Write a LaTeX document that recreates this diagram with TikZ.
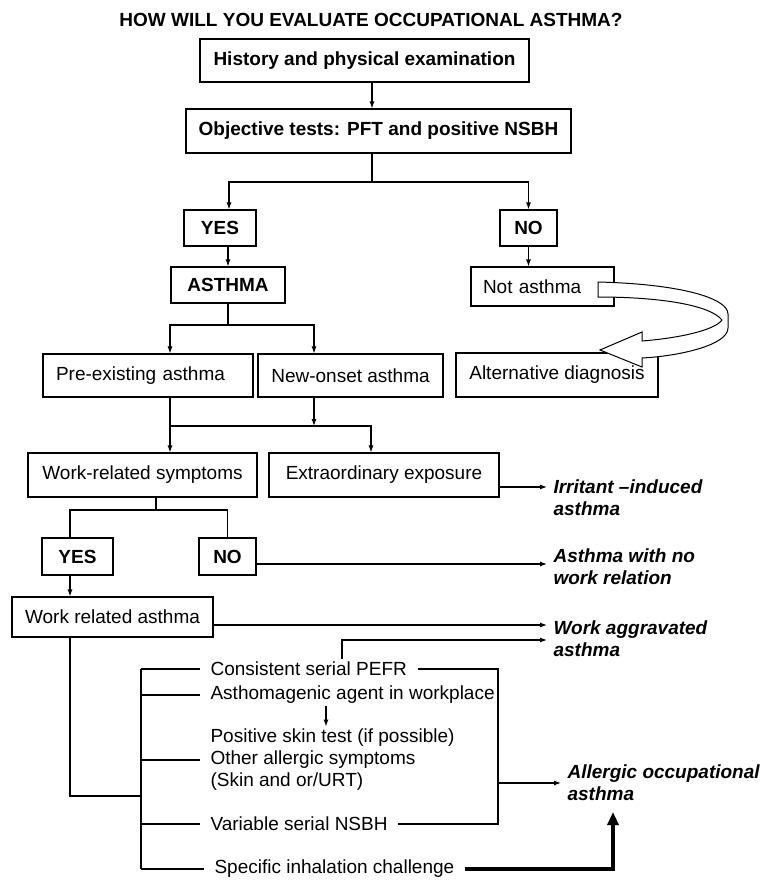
\documentclass[tikz,border=0pt]{standalone}
\usepackage{fontspec}
\setmainfont{Liberation Sans}
\usetikzlibrary{positioning, arrows.meta}
\newcommand{\dgfont}{\fontsize{19}{22}\selectfont}
\tikzset{
box/.style={draw, rectangle, inner sep=0, font=\dgfont}, keybox/.style={box, font=\dgfont\bfseries},
item/.style={anchor=west, inner xsep=10pt, inner ysep=2pt, font=\dgfont, align=left},
outcome/.style={anchor=west, inner xsep=6pt, font=\dgfont\bfseries\itshape, align=left}}

\begin{document}
\begin{tikzpicture}[x=1pt, y=-1pt, line width=1.1pt, >={Latex[length=7pt,width=5pt]}]
\useasboundingbox (0,0) rectangle (761,881);
\node [font=\dgfont\bfseries] at (371,20) (title) {HOW WILL YOU EVALUATE OCCUPATIONAL ASTHMA?};
\node [keybox, minimum width=329pt, minimum height=43pt] at (364.5,60.5) (hist) {History and physical examination};
\node [keybox, minimum width=385pt, minimum height=44pt] at (378.5,131) (obj) {Objective tests: PFT and positive NSBH};
\node [keybox, minimum width=72pt, minimum height=36pt] at (220,228) (yes-1) {YES};
\node [keybox, minimum width=57pt, minimum height=36pt] at (528.5,228) (no-1) {NO};
\node [keybox, minimum width=114pt, minimum height=36pt] at (228,285) (asth) {ASTHMA};
\node [box, minimum width=143pt, minimum height=39pt, text width=119pt, align=left] at (542.5,286.5) (notas) {Not asthma};
\node [box, minimum width=210pt, minimum height=43pt, text width=184pt, align=left] at (148,375.5) (pre) {Pre-existing asthma};
\node [box, minimum width=185pt, minimum height=43pt] at (350.5,375.5) (new) {New-onset asthma};
\node [box, minimum width=202pt, minimum height=44pt] at (557,375) (alt) {Alternative diagnosis};
\node [box, minimum width=229pt, minimum height=44pt] at (142.5,475) (wrs) {Work-related symptoms};
\node [box, minimum width=230pt, minimum height=44pt] at (384,475) (ee) {Extraordinary exposure};
\node [keybox, minimum width=71pt, minimum height=37pt] at (77.5,556.5) (yes-2) {YES};
\node [keybox, minimum width=57pt, minimum height=37pt] at (227.5,556.5) (no-2) {NO};
\node [box, minimum width=201pt, minimum height=40pt] at (112.5,617) (wra) {Work related asthma};

% criteria
\node [item] at (200,669) (i-1) {Consistent serial PEFR};
\node [item] at (200,695) (i-2) {Asthomagenic agent in workplace};
\node [item] at (200,760) (i-3) {Positive skin test (if possible)\\Other allergic symptoms\\(Skin and or/URT)};
\node [item] at (200,824) (i-4) {Variable serial NSBH};
\node [item] at (204,869) (i-5) {Specific inhalation challenge};

% outcomes
\node [outcome] at (547,497.5) (irr) {Irritant –induced\\asthma};
\node [outcome] at (547,567) (nwr) {Asthma with no\\work relation};
\node [outcome] at (547,639) (wag) {Work aggravated\\asthma};
\node [outcome] at (561,783) (aoa) {Allergic occupational\\asthma};

\coordinate (s1) at (372,182);
\draw [->] ([xshift=7.5pt]hist.south) -- ([xshift=7.5pt]hist.south |- obj.north);
\draw (obj.south -| s1) -- (s1);
\draw [->] (s1) -| ([xshift=9pt]yes-1.north);
\draw [->] (s1) -| (no-1.north);
\draw [->] (asth.north |- yes-1.south) -- (asth.north);
\draw [->] (no-1.south) -- (no-1.south |- notas.north);

\coordinate (s2) at (228,325);
\draw (asth.south) -- (s2);
\draw [->] (s2) -| ([xshift=22pt]pre.north);
\draw [->] (s2) -| ([xshift=-36.5pt]new.north);

\coordinate (j1) at (170,426);
\coordinate (j2) at (371,426);
\draw (pre.south -| j1) -- (j1);
\draw [->] ([xshift=-36.5pt]new.south) -- ([xshift=-36.5pt]new.south |- j1);
\draw [->] (j1) -- (j1 |- wrs.north);
\draw [->] (j1) -- (j2) -- (j2 |- ee.north);
\draw [->] ([yshift=-12pt]ee.east) -- ([yshift=-12pt]ee.east -| irr.west);

\coordinate (s3) at (156,510);
\draw (wrs.south -| s3) -- (s3);
\draw (s3) -| ([xshift=-7.5pt]yes-2.north);
\draw (s3) -| (no-2.north);
\draw [->] ([yshift=-7.5pt]no-2.east) -- ([yshift=-7.5pt]no-2.east -| nwr.west);
\draw [->] ([xshift=-7.5pt]yes-2.south) -- ([xshift=-7.5pt]yes-2.south |- wra.north);
\draw [->] ([yshift=-8pt]wra.east) -- ([yshift=-8pt]wra.east -| wag.west);

% bracket of criteria
\coordinate (b0) at (141,796);
\coordinate (bt) at (141,669);
\coordinate (bb) at (141,869);
\draw ([xshift=-42.5pt]wra.south) |- (b0);
\draw (bt) -- (bb);
\foreach \k in {1,...,5}
  \draw (bt |- i-\k.west) -- (i-\k.west);
\coordinate (ag) at (326,0);
\draw [->] (i-2.south -| ag) -- (i-3.north -| ag);
\coordinate (wb) at (342,640);
\draw [->] (i-1.north -| wb) -- (wb) -- (wb -| wag.west);
\coordinate (rt) at (498,669);
\coordinate (rb) at (498,824);
\coordinate (rm) at (498,783);
\draw (i-1.east) -- (rt) -- (rb) -- (i-4.east);
\draw [->] (rm) -- (rm -| aoa.west);
\coordinate (ta) at (613,812);
\draw [line width=3.5pt, -{Triangle[length=13pt,width=11pt]}] (i-5.east) -| (ta);

% hollow curved arrow
\draw [fill=white, line width=1pt] (598,282) .. controls (680,284) and (728,298) .. (728,314)
  -- (728,328) .. controls (728,345) and (680,356) .. (642,358) -- (642,367) -- (600,350)
  -- (642,332) -- (642,341) .. controls (680,338) and (715,330) .. (722,320)
  .. controls (710,305) and (660,297) .. (598,297) -- cycle;
\end{tikzpicture}
\end{document}
